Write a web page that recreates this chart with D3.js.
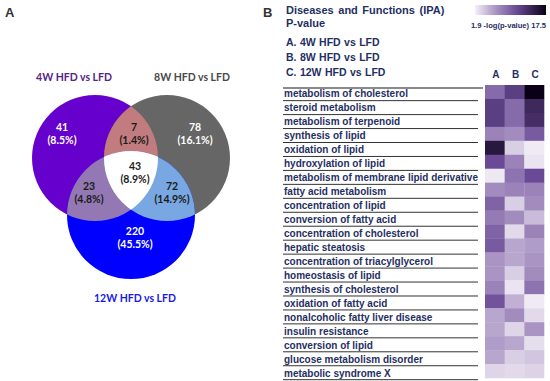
<!DOCTYPE html>
<html><head><meta charset="utf-8">
<script src="https://cdn.jsdelivr.net/npm/d3@7"></script>
<style>body{margin:0;background:#fff}svg{display:block}</style>
</head><body>
<script>
// ---- Venn data ----
const vennSets = ["4W HFD vs LFD", "8W HFD vs LFD", "12W HFD vs LFD"];
const vennRegions = ["A only", "A∩B", "B only", "A∩B∩C", "A∩C", "B∩C", "C only"];
const vennCounts = [41, 7, 78, 43, 23, 72, 220];
const vennPercents = ["8.5%", "1.4%", "16.1%", "8.9%", "4.8%", "14.9%", "45.5%"];

// ---- Heatmap data ----
const functions = [
  "metabolism of cholesterol", "steroid metabolism", "metabolism of terpenoid",
  "synthesis of lipid", "oxidation of lipid", "hydroxylation of lipid",
  "metabolism of membrane lipid derivative", "fatty acid metabolism",
  "concentration of lipid", "conversion of fatty acid", "concentration of cholesterol",
  "hepatic steatosis", "concentration of triacylglycerol", "homeostasis of lipid",
  "synthesis of cholesterol", "oxidation of fatty acid", "nonalcoholic fatty liver disease",
  "insulin resistance", "conversion of lipid", "glucose metabolism disorder",
  "metabolic syndrome X"
];
const comparisons = ["A", "B", "C"];
const valuesA = [9, 12, 12, 7.5, 15.5, 11, 2.3, 7, 9.5, 8, 9.5, 10, 6.5, 6.5, 7.5, 10.5, 5.5, 5.5, 6, 5.5, 3.2];
const valuesB = [12, 9, 9, 7, 3.5, 7.5, 8.5, 7.5, 3.5, 7, 3, 5.5, 5.5, 3.5, 2.5, 5, 7, 3.2, 5.5, 3.5, 3];
const valuesC = [17.5, 14, 13.5, 10, 2.2, 2.5, 11, 7.5, 7, 4.5, 7.5, 6, 6.5, 7, 8.5, 2.2, 3, 6.5, 2.8, 4, 3.3];
const legendTicks = [1.9, 17.5];
const comparisonLabels = ["A. 4W HFD vs LFD", "B. 8W HFD vs LFD", "C. 12W HFD vs LFD"];

const W = 550, H = 381;
const svg = d3.select("body").append("svg").attr("width", W).attr("height", H);
const defs = svg.append("defs");

// Panel letters
svg.append("text").attr("x", 5).attr("y", 17).text("A")
  .attr("font-family", "Liberation Sans, Arial, sans-serif").attr("font-weight", "bold")
  .attr("font-size", 13).attr("fill", "#333");
svg.append("text").attr("x", 263).attr("y", 17).text("B")
  .attr("font-family", "Liberation Sans, Arial, sans-serif").attr("font-weight", "bold")
  .attr("font-size", 13).attr("fill", "#333");

// ---- Venn ----
const circles = [
  {cx: 95, cy: 158, r: 63, fill: "#6600cc"},
  {cx: 167, cy: 158, r: 63, fill: "#666666"},
  {cx: 131, cy: 215, r: 64, fill: "#0000ff"}
];
circles.forEach((c, i) => {
  defs.append("clipPath").attr("id", "clip" + i)
    .append("circle").attr("cx", c.cx).attr("cy", c.cy).attr("r", c.r);
});
const vg = svg.append("g");
circles.forEach(c => vg.append("circle").attr("cx", c.cx).attr("cy", c.cy).attr("r", c.r).attr("fill", c.fill));
function inter(a, b, fill) {
  vg.append("g").attr("clip-path", `url(#clip${a})`)
    .append("circle").attr("cx", circles[b].cx).attr("cy", circles[b].cy).attr("r", circles[b].r).attr("fill", fill);
}
inter(0, 1, "#c27b7e");
inter(0, 2, "#9478b4");
inter(1, 2, "#79a7e1");
vg.append("g").attr("clip-path", "url(#clip0)")
  .append("g").attr("clip-path", "url(#clip1)")
  .append("circle").attr("cx", circles[2].cx).attr("cy", circles[2].cy).attr("r", circles[2].r).attr("fill", "#ffffff");

const regionPos = [[62, 131], [134, 131], [195, 131], [135, 170], [89, 190], [172, 190], [135, 235]];
const regionColor = ["#fff", "#1a1a1a", "#fff", "#1a1a1a", "#1a1a1a", "#1a1a1a", "#fff"];
const vfont = "Lato, 'Open Sans', sans-serif";
vennCounts.forEach((v, i) => {
  const t = vg.append("text").attr("text-anchor", "middle").attr("font-family", vfont)
    .attr("font-weight", "bold").attr("font-size", 10.5).attr("fill", regionColor[i]);
  t.append("tspan").attr("x", regionPos[i][0]).attr("y", regionPos[i][1]).text(v);
  t.append("tspan").attr("x", regionPos[i][0]).attr("y", regionPos[i][1] + 12.5).text("(" + vennPercents[i] + ")");
});
const setLabelPos = [[74, 81], [192, 81], [135, 302]];
const setLabelColor = ["#55238a", "#4a4a4a", "#1a1ae0"];
vennSets.forEach((s, i) => {
  svg.append("text").attr("x", setLabelPos[i][0]).attr("y", setLabelPos[i][1])
    .attr("text-anchor", "middle").attr("font-family", vfont).attr("font-weight", "bold")
    .attr("font-size", 10.5).attr("fill", setLabelColor[i]).text(s);
});

// ---- Heatmap panel ----
const navy = "#1f2f63";
const afont = "Liberation Sans, Arial, sans-serif";
svg.append("text").attr("x", 286).attr("y", 13.5).text("Diseases and Functions (IPA)")
  .attr("font-family", afont).attr("font-weight", "bold").attr("font-size", 11).attr("fill", navy)
  .attr("word-spacing", 1.5);
svg.append("text").attr("x", 286).attr("y", 27).text("P-value")
  .attr("font-family", afont).attr("font-weight", "bold").attr("font-size", 11).attr("fill", navy);
comparisonLabels.forEach((s, i) => {
  svg.append("text").attr("x", 286).attr("y", 45.5 + i * 15.3).text(s)
    .attr("font-family", afont).attr("font-weight", "bold").attr("font-size", 10.5).attr("fill", navy)
    .attr("word-spacing", 0.5);
});

const color = d3.scaleLinear().domain([1.9, 6, 11, 17.5])
  .range(["#f4f0f7", "#b09cc8", "#6a4a96", "#0a0018"]);

// legend gradient
const grad = defs.append("linearGradient").attr("id", "lg");
d3.range(0, 1.001, 0.1).forEach(t => {
  const v = legendTicks[0] + t * (legendTicks[1] - legendTicks[0]);
  grad.append("stop").attr("offset", t).attr("stop-color", color(v));
});
svg.append("rect").attr("x", 475).attr("y", 5).attr("width", 71).attr("height", 10).attr("fill", "url(#lg)");
svg.append("text").attr("x", 546).attr("y", 28).attr("text-anchor", "end")
  .attr("font-family", afont).attr("font-weight", "bold").attr("font-size", 7.6).attr("fill", navy)
  .text(legendTicks[0] + " -log(p-value) " + legendTicks[1]);

const x = d3.scaleBand().domain(comparisons).range([485, 544]);
const y = d3.scaleBand().domain(functions).range([85, 378]);
const vals = [valuesA, valuesB, valuesC];

comparisons.forEach((c, j) => {
  svg.append("text").attr("x", x(c) + x.bandwidth() / 2 + 1).attr("y", 78).attr("text-anchor", "middle")
    .attr("font-family", afont).attr("font-weight", "bold").attr("font-size", 10).attr("fill", navy).text(c);
  functions.forEach((f, i) => {
    svg.append("rect").attr("x", x(c)).attr("y", y(f)).attr("width", x.bandwidth() + 0.3)
      .attr("height", y.bandwidth() + 0.3).attr("fill", color(vals[j][i]));
  });
});

// top gray rule
svg.append("line").attr("x1", 283).attr("x2", 483).attr("y1", 88).attr("y2", 88)
  .attr("stroke", "#8a8a8a").attr("stroke-width", 2);
functions.forEach((f, i) => {
  svg.append("text").attr("x", 284).attr("y", y(f) + y.bandwidth() - 1.5).text(f)
    .attr("font-family", afont).attr("font-weight", "bold").attr("font-size", 10).attr("fill", navy);
  svg.append("line").attr("x1", 283).attr("x2", 478)
    .attr("y1", y(f) + y.bandwidth() + 1.7).attr("y2", y(f) + y.bandwidth() + 1.7)
    .attr("stroke", "#333").attr("stroke-width", 1);
});
</script>
</body></html>
